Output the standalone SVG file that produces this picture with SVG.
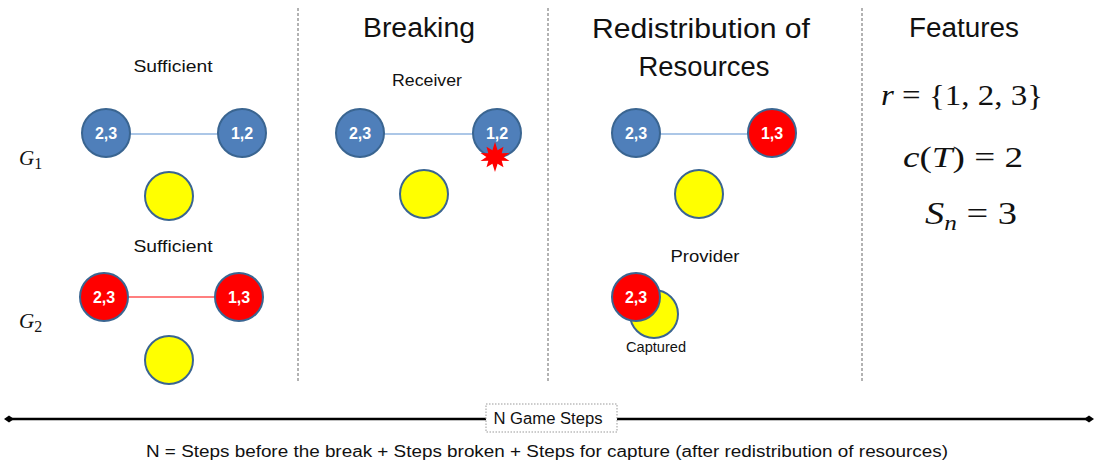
<svg xmlns="http://www.w3.org/2000/svg" width="1094" height="467" viewBox="0 0 1094 467">
<style>
.bg{fill:#ffffff}
.div{stroke:#666;stroke-width:1;stroke-dasharray:3,2}
.blue{fill:#4F7FBA;stroke:#3A6591;stroke-width:2}
.red{fill:#FF0000;stroke:#3A6591;stroke-width:2}
.yel{fill:#FFFF00;stroke:#3A6591;stroke-width:2}
.lbl{font-family:"Liberation Sans",Arial,sans-serif;font-weight:bold;font-size:16px;fill:#fff;text-anchor:middle}
.t{font-family:"Liberation Sans",Arial,sans-serif;fill:#111;text-anchor:middle}
.h{font-size:27px}
.m{font-family:"Liberation Serif","DejaVu Serif",serif;fill:#111;font-size:30px}
.m32{font-size:32px}
.g{font-size:21px;font-style:italic}
.sub{font-size:16px;font-style:normal}
.lb{stroke:#5B8FD0;stroke-width:1.2}
.lr{stroke:#FF0000;stroke-width:1.2}
</style>
<defs>
<marker id="dia" viewBox="0 0 10 10" refX="5" refY="5" markerWidth="4" markerHeight="4" orient="auto">
<path d="M0 5 L5 1.5 L10 5 L5 8.5 Z" fill="#000"/>
</marker>
</defs>
<rect class="bg" x="0" y="0" width="1094" height="467"/>

<g id="dividers">
<line class="div" x1="298" y1="8" x2="298" y2="381"/>
<line class="div" x1="548" y1="8" x2="548" y2="381"/>
<line class="div" x1="862" y1="8" x2="862" y2="381"/>
</g>

<g id="headers">
<text class="t h" x="419" y="37" textLength="112" lengthAdjust="spacingAndGlyphs">Breaking</text>
<text class="t h" x="701" y="38" textLength="218" lengthAdjust="spacingAndGlyphs">Redistribution of</text>
<text class="t h" x="704" y="76" textLength="131" lengthAdjust="spacingAndGlyphs">Resources</text>
<text class="t h" x="964" y="37" textLength="110" lengthAdjust="spacingAndGlyphs">Features</text>
</g>

<g id="connectors">
<line class="lb" x1="130" y1="134" x2="218" y2="134"/>
<line class="lr" x1="128" y1="297" x2="214" y2="297"/>
<line class="lb" x1="384" y1="134" x2="473" y2="134"/>
<line class="lb" x1="660" y1="134" x2="748" y2="134"/>
</g>

<g id="panel1">
<text class="t" x="173" y="72" font-size="17" textLength="79" lengthAdjust="spacingAndGlyphs">Sufficient</text>
<text class="m g" x="19" y="165">G<tspan class="sub" dy="4">1</tspan></text>
<g id="p1-n23"><circle class="blue" cx="106" cy="133" r="24"/><text class="lbl" x="106" y="139">2,3</text></g>
<g id="p1-n12"><circle class="blue" cx="242" cy="133" r="24"/><text class="lbl" x="242" y="139">1,2</text></g>
<g id="p1-y"><circle class="yel" cx="169" cy="196" r="24"/></g>
<text class="t" x="173" y="252" font-size="17" textLength="79" lengthAdjust="spacingAndGlyphs">Sufficient</text>
<text class="m g" x="19" y="328">G<tspan class="sub" dy="4">2</tspan></text>
<g id="p1-r23"><circle class="red" cx="104" cy="297" r="24"/><text class="lbl" x="104" y="303">2,3</text></g>
<g id="p1-r13"><circle class="red" cx="239" cy="297" r="24"/><text class="lbl" x="239" y="303">1,3</text></g>
<g id="p1-y2"><circle class="yel" cx="169" cy="360" r="24"/></g>
</g>

<g id="panel2">
<text class="t" x="427" y="86" font-size="17" textLength="70" lengthAdjust="spacingAndGlyphs">Receiver</text>
<g id="p2-n23"><circle class="blue" cx="360" cy="133" r="24"/><text class="lbl" x="360" y="139">2,3</text></g>
<g id="p2-n12"><circle class="blue" cx="497" cy="133" r="24"/><text class="lbl" x="497" y="139">1,2</text></g>
<g id="p2-star"><polygon fill="#FF0000" points="495,142 497.6,150.3 503.5,146.8 501.7,153.3 509.5,153.1 503.6,157 509.5,160.9 501.7,160.7 503.5,167.2 497.6,163.7 495,172 492.4,163.7 486.5,167.2 488.3,160.7 480.5,160.9 486.4,157 480.5,153.1 488.3,153.3 486.5,146.8 492.4,150.3"/></g>
<g id="p2-y"><circle class="yel" cx="424" cy="194" r="24"/></g>
</g>

<g id="panel3">
<g id="p3-n23"><circle class="blue" cx="636" cy="133" r="24"/><text class="lbl" x="636" y="139">2,3</text></g>
<g id="p3-r13"><circle class="red" cx="772" cy="133" r="24"/><text class="lbl" x="772" y="139">1,3</text></g>
<g id="p3-y"><circle class="yel" cx="699" cy="194" r="24"/></g>
<text class="t" x="705" y="262" font-size="17" textLength="69" lengthAdjust="spacingAndGlyphs">Provider</text>
<g id="p3-cap"><circle class="yel" cx="654" cy="314" r="24"/><circle class="red" cx="636" cy="297" r="24"/><text class="lbl" x="636" y="303">2,3</text></g>
<text class="t" x="656" y="352" font-size="14" textLength="60" lengthAdjust="spacingAndGlyphs">Captured</text>
</g>

<g id="panel4">
<text class="m" x="881" y="105" textLength="162" lengthAdjust="spacingAndGlyphs"><tspan font-style="italic">r</tspan> = {1, 2, 3}</text>
<text class="m" x="903" y="167" textLength="120" lengthAdjust="spacingAndGlyphs"><tspan font-style="italic">c</tspan>(<tspan font-style="italic">T</tspan>) = 2</text>
<text class="m m32" x="925" y="224" textLength="92" lengthAdjust="spacingAndGlyphs"><tspan font-style="italic">S</tspan><tspan font-style="italic" font-size="21" dy="6">n</tspan><tspan dy="-6"> = 3</tspan></text>
</g>

<g id="timeline">
<line x1="9" y1="419" x2="486" y2="419" stroke="#000" stroke-width="2.5" marker-start="url(#dia)"/>
<line x1="617" y1="419" x2="1089" y2="419" stroke="#000" stroke-width="2.5" marker-end="url(#dia)"/>
<rect x="486" y="404" width="131" height="28" fill="#fff" stroke="#999" stroke-width="1" stroke-dasharray="1.5,1.5"/>
<text class="t" x="548" y="424" font-size="16" textLength="109" lengthAdjust="spacingAndGlyphs">N Game Steps</text>
<text class="t" x="547" y="457" font-size="16" textLength="802" lengthAdjust="spacingAndGlyphs">N = Steps before the break + Steps broken + Steps for capture (after redistribution of resources)</text>
</g>
</svg>
